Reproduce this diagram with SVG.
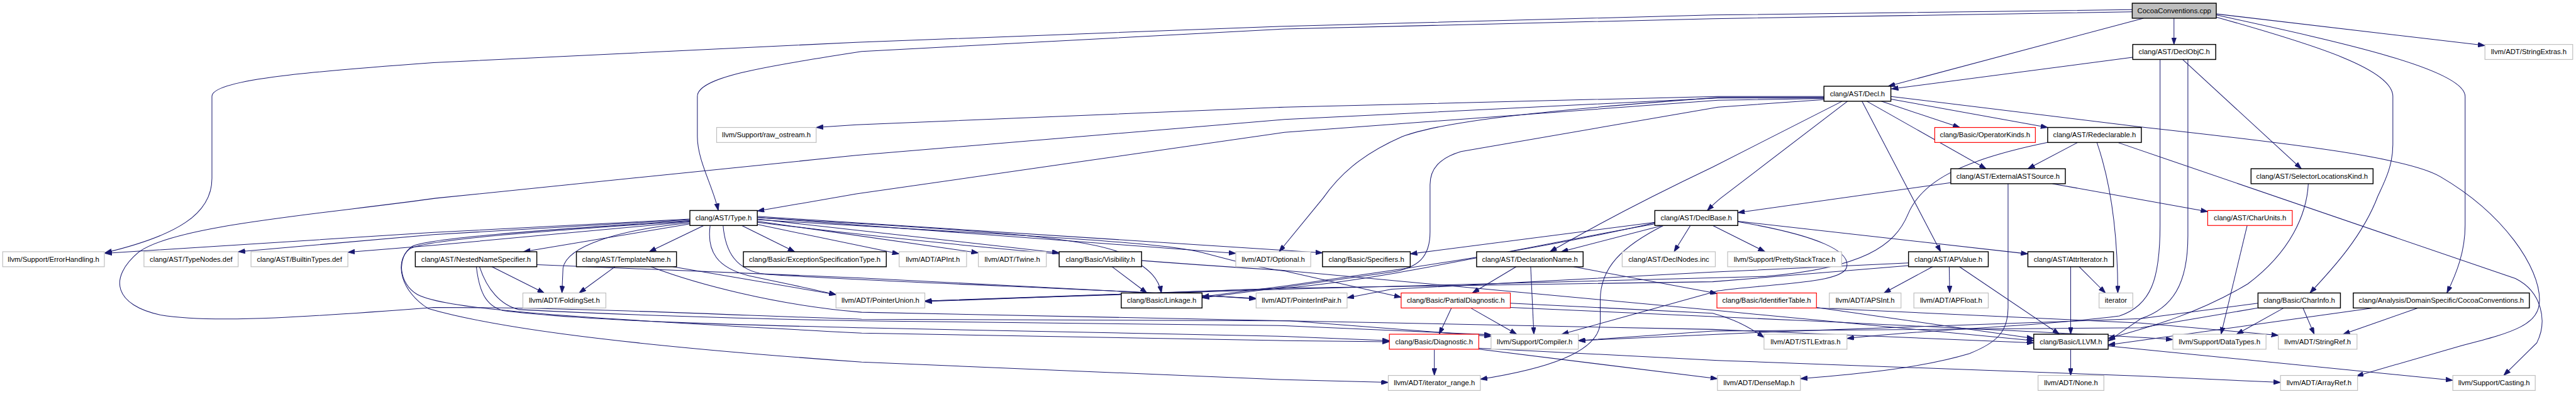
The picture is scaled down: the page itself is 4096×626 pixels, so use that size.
<svg xmlns="http://www.w3.org/2000/svg" width="4096" height="626" viewBox="0 0 4096 626">
<defs>
<style>
.n rect{fill:#fff;stroke:#000;stroke-width:1.7}
.u rect{fill:#fff;stroke:#bfbfbf;stroke-width:1.4}
.r rect{fill:#fff;stroke:#ff0000;stroke-width:1.4}
.root rect{fill:#bfbfbf;stroke:#000;stroke-width:1.7}
text{font-family:"Liberation Sans",Arial,Helvetica,sans-serif;font-size:13.33px;fill:#000;text-anchor:middle}
#edges path{fill:none;stroke:#191970;stroke-width:1.2;marker-end:url(#ah)}
</style>
<marker id="ah" markerUnits="userSpaceOnUse" markerWidth="13" markerHeight="9" refX="13" refY="4.5" orient="auto">
<path d="M0,0 L13,4.5 L0,9 z" fill="#191970" stroke="#191970" stroke-width="1"/>
</marker>
</defs>
<rect x="0" y="0" width="4096" height="626" fill="#fff"/>
<g transform="scale(0.851)">
<g id="edges">
<path d="M4062,34 L4062,83"/>
<path d="M4141,26 L4643,85"/>
<path d="M4005,34 L3528,161"/>
<path d="M3984,22 L3200,35 L2400,54 L1610,96 C1420,125 1303,145 1303,180 L1303,255 C1303,300 1333,350 1342,393"/>
<path d="M3984,18 L3200,28 L2400,49 L1600,79 L810,117 C560,135 396,150 396,180 L396,333 C396,400 330,440 196,472"/>
<path d="M4141,32 C4330,85 4471,130 4471,180 L4471,270 C4471,310 4455,340 4443,366 C4415,440 4360,500 4316,547"/>
<path d="M4141,28 C4380,80 4606,130 4606,180 L4606,420 C4606,470 4590,510 4572,547"/>
<path d="M3985,107 L3534,166"/>
<path d="M4078,111 L4300,315"/>
<path d="M4036,111 L4036,420 C4036,520 4020,570 3960,590 C3800,610 3600,615 3451,632"/>
<path d="M4088,111 L4088,440 C4088,530 4060,575 4000,595 L3300,620 L2949,636"/>
<path d="M3452,189 L3215,370 C3205,378 3198,385 3190,393"/>
<path d="M3442,189 L3200,312 C3120,350 3000,410 2896,470"/>
<path d="M3479,189 L3626,470"/>
<path d="M3488,189 L3711,315"/>
<path d="M3515,189 L3662,238"/>
<path d="M3533,185 L3826,238"/>
<path d="M3533,180 L4000,237 C4300,270 4500,295 4560,330 C4680,400 4745,500 4745,560 C4745,605 4700,620 4600,645 L4403,702"/>
<path d="M3408,184 L3210,187 L2400,247 L1600,362 L1415,394"/>
<path d="M3408,180 L3210,180 L2400,200 L1600,233 L1525,238"/>
<path d="M3408,182 L3210,182 C2900,205 2700,225 2620,255 C2540,290 2500,330 2472,370 L2390,470"/>
<path d="M3408,186 L3210,200 L2730,283 C2690,295 2672,315 2672,345 L2672,433 C2672,480 2650,500 2600,508 L2400,536 L2246,556"/>
<path d="M3408,183 L3210,183 L2400,223 L1600,290 L815,370 C600,400 330,420 260,470 C200,520 215,570 300,588 C400,605 600,590 810,574 C1100,574 1400,590 1610,596 L2410,599 L2786,628"/>
<path d="M3882,266 L3789,315"/>
<path d="M3918,266 C3940,330 3957,420 3957,547"/>
<path d="M3957,266 L4700,520 C4750,545 4760,600 4740,640 L4678,701"/>
<path d="M3826,266 C3660,300 3590,340 3565,400 C3540,460 3480,500 3300,516 L2400,540 L1728,562"/>
<path d="M3645,341 L3247,397"/>
<path d="M3752,343 L3752,575 C3752,620 3730,640 3680,660 C3580,690 3450,700 3364,707"/>
<path d="M3835,343 L4125,395"/>
<path d="M4313,343 C4310,400 4280,470 4200,530 C4100,590 4000,615 3939,632"/>
<path d="M4199,420 L4150,624"/>
<path d="M1289,409 L810,434 L196,473"/>
<path d="M1289,410 L810,438 L445,470"/>
<path d="M1289,414 L810,458 L650,471"/>
<path d="M1289,418 L978,470"/>
<path d="M1289,416 C1150,430 1060,460 1052,500 L1050,547"/>
<path d="M1317,420 L1213,470"/>
<path d="M1384,420 L1485,470"/>
<path d="M1415,419 L1680,474"/>
<path d="M1415,413 L1828,472"/>
<path d="M1415,409 L1979,472"/>
<path d="M1415,406 L2309,473"/>
<path d="M1415,404 L2471,472"/>
<path d="M1415,406 C1800,430 2050,440 2110,480 C2150,505 2165,520 2170,547"/>
<path d="M1351,420 C1355,470 1375,505 1430,512 C1700,530 2100,540 2347,558"/>
<path d="M1327,420 C1320,470 1340,500 1400,515 C1470,530 1520,540 1562,550"/>
<path d="M1289,412 C1000,430 800,445 770,460 C740,480 745,530 780,550 C830,575 1000,590 1610,622 L2400,636 L2596,638"/>
<path d="M1289,413 C1000,432 790,448 765,465 C735,490 750,545 800,576 C900,605 1100,640 1610,676 L2400,709 L2594,714"/>
<path d="M1415,415 C1700,450 2000,480 2400,505 L3210,580 L3800,636"/>
<path d="M1415,410 C1900,440 2150,450 2240,470 C2300,485 2350,500 2400,506 L2618,555"/>
<path d="M919,498 L1017,547"/>
<path d="M1003,494 L1610,519 L2347,557"/>
<path d="M890,498 C895,540 905,570 940,580 C1100,600 1400,607 1610,612 L2400,628 L2596,636"/>
<path d="M896,498 C910,540 935,570 970,578 C1200,590 1400,595 1610,599 L2400,608 L2786,625"/>
<path d="M1149,498 L1082,547"/>
<path d="M1216,498 C1300,530 1450,570 1610,583 L3200,615 L3800,640"/>
<path d="M1257,498 L1562,550"/>
<path d="M2078,498 L2143,547"/>
<path d="M2833,498 L2751,547"/>
<path d="M2860,498 L2866,624"/>
<path d="M2940,498 L3208,548"/>
<path d="M2712,575 L2689,624"/>
<path d="M2748,575 L2834,624"/>
<path d="M2822,566 L3200,585 C3240,595 3275,615 3296,630"/>
<path d="M2822,574 L3400,600 C3700,615 3950,625 4060,634"/>
<path d="M2680,653 L2680,701"/>
<path d="M2763,652 L3209,707"/>
<path d="M2763,650 L3210,673 L4000,702 L4261,714"/>
<path d="M3394,574 L3800,632"/>
<path d="M3394,575 L4000,603 L4257,626"/>
<path d="M3611,498 L3520,547"/>
<path d="M3642,498 L3643,547"/>
<path d="M3661,498 L3848,624"/>
<path d="M3566,491 L3200,508 L2600,540 L2517,556"/>
<path d="M3566,496 L3200,526 L2400,538 L1728,563"/>
<path d="M3869,498 L3869,624"/>
<path d="M3885,498 L3934,547"/>
<path d="M3869,653 L3869,701"/>
<path d="M3939,646 L4583,710"/>
<path d="M3092,415 L2635,474"/>
<path d="M3110,420 L2917,470"/>
<path d="M3159,420 L3128,470"/>
<path d="M3110,420 C3030,460 2990,500 2990,560 L2990,600 C2990,660 2880,690 2766,708"/>
<path d="M3200,421 L3298,470"/>
<path d="M3247,413 L3789,474"/>
<path d="M3247,414 C3400,440 3460,470 3450,500 C3440,530 3300,530 3210,543 L2918,624"/>
<path d="M3092,416 C2900,460 2700,490 2600,505 L2400,534 L2246,554"/>
<path d="M3092,418 C2800,470 2600,520 2400,538 L1728,562"/>
<path d="M4219,566 L4000,595 L3939,637"/>
<path d="M4219,575 L4000,612 L3200,618 L2949,636"/>
<path d="M4267,575 L4179,624"/>
<path d="M4303,575 L4324,624"/>
<path d="M4435,575 L3939,644"/>
<path d="M4518,575 L4378,624"/>
</g>
<g id="n1" class="root"><rect x="3984" y="6" width="157" height="28"/><text x="4062.5" y="24.5">CocoaConventions.cpp</text></g>
<g id="n2" class="n"><rect x="3985" y="83" width="155" height="28"/><text x="4062.5" y="101.5">clang/AST/DeclObjC.h</text></g>
<g id="n3" class="u"><rect x="4643" y="83" width="164" height="28"/><text x="4725" y="101.5">llvm/ADT/StringExtras.h</text></g>
<g id="n4" class="n"><rect x="3408" y="161" width="125" height="28"/><text x="3470.5" y="179.5">clang/AST/Decl.h</text></g>
<g id="n5" class="u"><rect x="1339" y="238" width="186" height="28"/><text x="1432" y="256.5">llvm/Support/raw_ostream.h</text></g>
<g id="n6" class="r"><rect x="3615" y="238" width="188" height="28"/><text x="3709" y="256.5">clang/Basic/OperatorKinds.h</text></g>
<g id="n7" class="n"><rect x="3826" y="238" width="175" height="28"/><text x="3913.5" y="256.5">clang/AST/Redeclarable.h</text></g>
<g id="n8" class="n"><rect x="3645" y="315" width="214" height="28"/><text x="3752" y="333.5">clang/AST/ExternalASTSource.h</text></g>
<g id="n9" class="n"><rect x="4206" y="315" width="228" height="28"/><text x="4320" y="333.5">clang/AST/SelectorLocationsKind.h</text></g>
<g id="n10" class="n"><rect x="1289" y="393" width="126" height="28"/><text x="1352" y="411.5">clang/AST/Type.h</text></g>
<g id="n11" class="n"><rect x="3092" y="393" width="155" height="28"/><text x="3169.5" y="411.5">clang/AST/DeclBase.h</text></g>
<g id="n12" class="r"><rect x="4125" y="393" width="158" height="28"/><text x="4204" y="411.5">clang/AST/CharUnits.h</text></g>
<g id="n13" class="u"><rect x="5" y="470" width="190" height="28"/><text x="100" y="488.5">llvm/Support/ErrorHandling.h</text></g>
<g id="n14" class="u"><rect x="269" y="470" width="176" height="28"/><text x="357" y="488.5">clang/AST/TypeNodes.def</text></g>
<g id="n15" class="u"><rect x="469" y="470" width="181" height="28"/><text x="559.5" y="488.5">clang/AST/BuiltinTypes.def</text></g>
<g id="n16" class="n"><rect x="776" y="470" width="227" height="28"/><text x="889.5" y="488.5">clang/AST/NestedNameSpecifier.h</text></g>
<g id="n17" class="n"><rect x="1077" y="470" width="187" height="28"/><text x="1170.5" y="488.5">clang/AST/TemplateName.h</text></g>
<g id="n18" class="n"><rect x="1389" y="470" width="267" height="28"/><text x="1522.5" y="488.5">clang/Basic/ExceptionSpecificationType.h</text></g>
<g id="n19" class="u"><rect x="1680" y="470" width="126" height="28"/><text x="1743" y="488.5">llvm/ADT/APInt.h</text></g>
<g id="n20" class="u"><rect x="1828" y="470" width="127" height="28"/><text x="1891.5" y="488.5">llvm/ADT/Twine.h</text></g>
<g id="n21" class="n"><rect x="1979" y="470" width="154" height="28"/><text x="2056" y="488.5">clang/Basic/Visibility.h</text></g>
<g id="n22" class="u"><rect x="2309" y="470" width="140" height="28"/><text x="2379" y="488.5">llvm/ADT/Optional.h</text></g>
<g id="n23" class="n"><rect x="2471" y="470" width="164" height="28"/><text x="2553" y="488.5">clang/Basic/Specifiers.h</text></g>
<g id="n24" class="n"><rect x="2759" y="470" width="199" height="28"/><text x="2858.5" y="488.5">clang/AST/DeclarationName.h</text></g>
<g id="n25" class="u"><rect x="3031" y="470" width="174" height="28"/><text x="3118" y="488.5">clang/AST/DeclNodes.inc</text></g>
<g id="n26" class="u"><rect x="3228" y="470" width="213" height="28"/><text x="3334.5" y="488.5">llvm/Support/PrettyStackTrace.h</text></g>
<g id="n27" class="n"><rect x="3566" y="470" width="149" height="28"/><text x="3640.5" y="488.5">clang/AST/APValue.h</text></g>
<g id="n28" class="n"><rect x="3789" y="470" width="160" height="28"/><text x="3869" y="488.5">clang/AST/AttrIterator.h</text></g>
<g id="n29" class="u"><rect x="977" y="547" width="155" height="28"/><text x="1054.5" y="565.5">llvm/ADT/FoldingSet.h</text></g>
<g id="n30" class="u"><rect x="1562" y="547" width="166" height="28"/><text x="1645" y="565.5">llvm/ADT/PointerUnion.h</text></g>
<g id="n31" class="n"><rect x="2095" y="547" width="151" height="28"/><text x="2170.5" y="565.5">clang/Basic/Linkage.h</text></g>
<g id="n32" class="u"><rect x="2347" y="547" width="170" height="28"/><text x="2432" y="565.5">llvm/ADT/PointerIntPair.h</text></g>
<g id="n33" class="r"><rect x="2618" y="547" width="204" height="28"/><text x="2720" y="565.5">clang/Basic/PartialDiagnostic.h</text></g>
<g id="n34" class="r"><rect x="3208" y="547" width="186" height="28"/><text x="3301" y="565.5">clang/Basic/IdentifierTable.h</text></g>
<g id="n35" class="u"><rect x="3418" y="547" width="134" height="28"/><text x="3485" y="565.5">llvm/ADT/APSInt.h</text></g>
<g id="n36" class="u"><rect x="3576" y="547" width="139" height="28"/><text x="3645.5" y="565.5">llvm/ADT/APFloat.h</text></g>
<g id="n37" class="u"><rect x="3922" y="547" width="63" height="28"/><text x="3953.5" y="565.5">iterator</text></g>
<g id="n38" class="n"><rect x="4219" y="547" width="154" height="28"/><text x="4296" y="565.5">clang/Basic/CharInfo.h</text></g>
<g id="n39" class="n"><rect x="4397" y="547" width="329" height="28"/><text x="4561.5" y="565.5">clang/Analysis/DomainSpecific/CocoaConventions.h</text></g>
<g id="n40" class="r"><rect x="2596" y="624" width="167" height="28"/><text x="2679.5" y="642.5">clang/Basic/Diagnostic.h</text></g>
<g id="n41" class="u"><rect x="2786" y="624" width="163" height="28"/><text x="2867.5" y="642.5">llvm/Support/Compiler.h</text></g>
<g id="n42" class="u"><rect x="3296" y="624" width="155" height="28"/><text x="3373.5" y="642.5">llvm/ADT/STLExtras.h</text></g>
<g id="n43" class="n"><rect x="3800" y="624" width="139" height="28"/><text x="3869.5" y="642.5">clang/Basic/LLVM.h</text></g>
<g id="n44" class="u"><rect x="4060" y="624" width="174" height="28"/><text x="4147" y="642.5">llvm/Support/DataTypes.h</text></g>
<g id="n45" class="u"><rect x="4257" y="624" width="147" height="28"/><text x="4330.5" y="642.5">llvm/ADT/StringRef.h</text></g>
<g id="n46" class="u"><rect x="2594" y="701" width="172" height="28"/><text x="2680" y="719.5">llvm/ADT/iterator_range.h</text></g>
<g id="n47" class="u"><rect x="3209" y="701" width="155" height="28"/><text x="3286.5" y="719.5">llvm/ADT/DenseMap.h</text></g>
<g id="n48" class="u"><rect x="3808" y="701" width="123" height="28"/><text x="3869.5" y="719.5">llvm/ADT/None.h</text></g>
<g id="n49" class="u"><rect x="4261" y="701" width="144" height="28"/><text x="4333" y="719.5">llvm/ADT/ArrayRef.h</text></g>
<g id="n50" class="u"><rect x="4583" y="701" width="154" height="28"/><text x="4660" y="719.5">llvm/Support/Casting.h</text></g>
</g>
</svg>
